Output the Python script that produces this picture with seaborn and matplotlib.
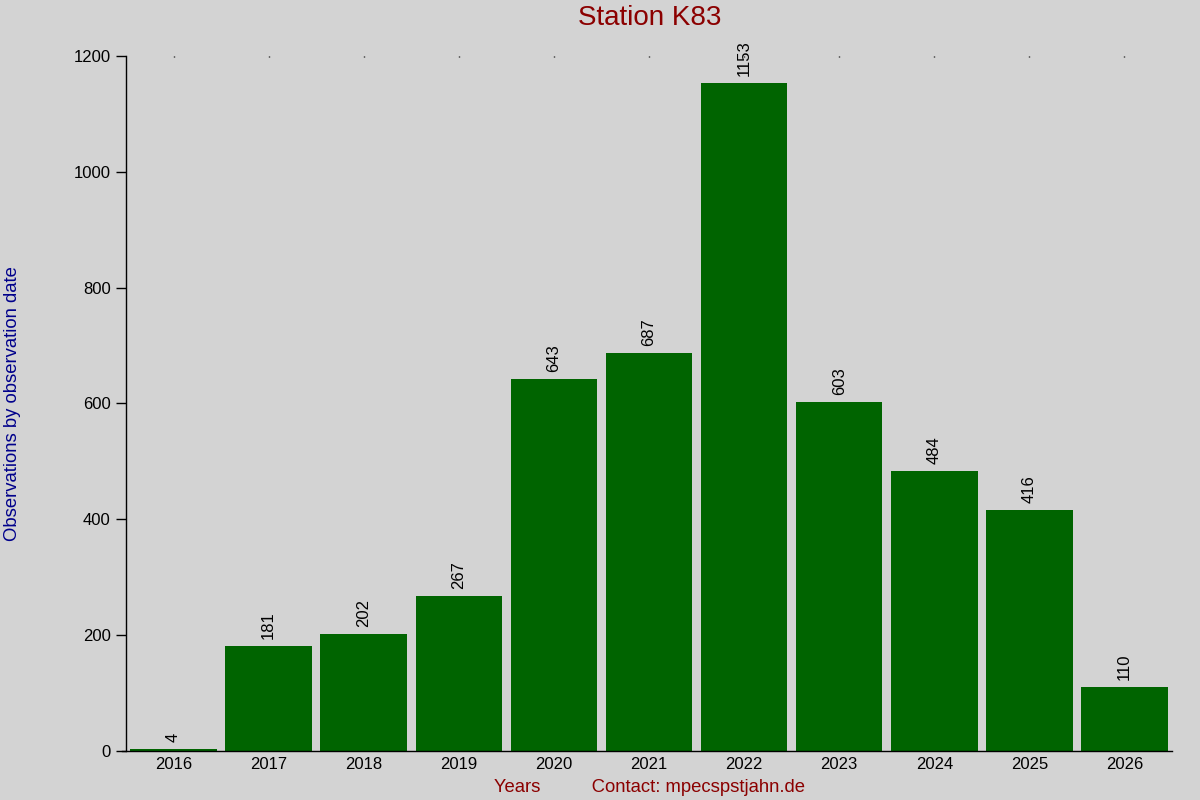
import numpy as np
import pandas as pd
import seaborn as sns
import matplotlib
matplotlib.use('Agg')
import matplotlib.pyplot as plt

YEARS = ['2016', '2017', '2018', '2019', '2020', '2021', '2022', '2023',
         '2024', '2025', '2026']
COUNTS = [4, 181, 202, 267, 643, 687, 1153, 603, 484, 416, 110]
Y_TICKS = [0, 200, 400, 600, 800, 1000, 1200]

BG = '#d3d3d3'


def main():
    sns.set_theme(style='white')
    plt.rcParams['font.family'] = ['Liberation Sans', 'DejaVu Sans']
    df = pd.DataFrame({'year': YEARS, 'count': COUNTS})

    fig = plt.figure(figsize=(12, 8), dpi=100, facecolor=BG)
    ax = fig.add_axes([0.105, 0.06125, 0.8717, 0.86875])
    ax.set_facecolor(BG)

    sns.barplot(data=df, x='year', y='count', color='#006400',
                saturation=1, width=0.91, linewidth=0, ax=ax)

    for i, v in enumerate(COUNTS):
        ax.annotate(str(v), (i, v), xytext=(0, 5), textcoords='offset points',
                    rotation=90, ha='center', va='bottom', fontsize=12,
                    color='black')

    ax.set_xlim(-0.5, 10.5)
    ax.set_ylim(0, 1200)
    ax.set_yticks(Y_TICKS)
    for side in ('top', 'right'):
        ax.spines[side].set_visible(False)
    for side in ('left', 'bottom'):
        ax.spines[side].set_color('black')
        ax.spines[side].set_linewidth(1)
    ax.spines['bottom'].set_bounds(-0.5 - 0.04, 10.5)
    ax.tick_params(axis='y', left=True, length=7, width=1, color='black',
                   labelsize=12, labelcolor='black', pad=4)
    ax.tick_params(axis='x', bottom=False, top=True, direction='in',
                   length=1, width=1, color='black', labelsize=12,
                   labelcolor='black', pad=4)

    fig.text(0.541, 0.978, 'Station K83', color='#8b0000', fontsize=20,
             ha='center', va='center')
    ax.set_xlabel('Years          Contact: mpecspstjahn.de',
                  color='#8b0000', fontsize=13.3, labelpad=5)
    ax.set_ylabel('Observations by observation date', color='#00008b',
                  fontsize=13.3)
    ax.yaxis.set_label_coords(-0.1, 0.5)

    fig.savefig('out.png', dpi=100, facecolor=BG)
    plt.close(fig)


if __name__ == '__main__':
    main()
